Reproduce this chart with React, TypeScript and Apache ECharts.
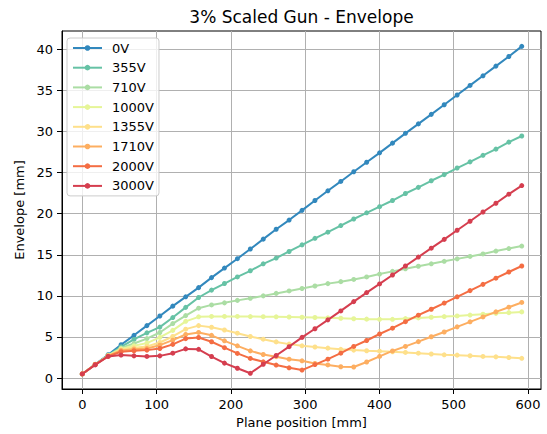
import React, { useEffect, useRef } from "react";
import * as echarts from "echarts";

const planePos = [0, 17.4, 34.8, 52.2, 69.6, 87, 104.4, 121.8, 139.2, 156.6, 174, 191.4, 208.8, 226.2, 243.6, 261, 278.4, 295.8, 313.2, 330.6, 348, 365.4, 382.8, 400.2, 417.6, 435, 452.4, 469.8, 487.2, 504.6, 522, 539.4, 556.8, 574.2, 591.6];

const env0V = [0.5, 1.67, 2.84, 4.05, 5.2, 6.38, 7.55, 8.75, 9.88, 11.0, 12.22, 13.38, 14.52, 15.7, 16.9, 18.1, 19.22, 20.4, 21.6, 22.78, 23.92, 25.1, 26.25, 27.4, 28.58, 29.77, 30.92, 32.08, 33.25, 34.43, 35.6, 36.77, 37.95, 39.12, 40.35];
const env355V = [0.5, 1.65, 2.78, 3.8, 4.7, 5.5, 6.2, 7.36, 8.6, 9.8, 10.7, 11.5, 12.3, 13.05, 13.9, 14.6, 15.4, 16.2, 17.0, 17.75, 18.55, 19.35, 20.1, 20.85, 21.6, 22.45, 23.2, 24.0, 24.75, 25.55, 26.3, 27.1, 27.85, 28.7, 29.45];
const env710V = [0.5, 1.65, 2.75, 3.65, 4.2, 4.8, 5.54, 6.63, 7.6, 8.5, 8.9, 9.15, 9.45, 9.7, 10.0, 10.3, 10.6, 10.9, 11.2, 11.49, 11.73, 12.0, 12.3, 12.65, 12.98, 13.3, 13.6, 13.9, 14.2, 14.5, 14.8, 15.1, 15.45, 15.75, 16.06];
const env1000V = [0.5, 1.65, 2.72, 3.55, 3.92, 4.25, 4.95, 5.8, 6.9, 7.45, 7.5, 7.5, 7.5, 7.48, 7.47, 7.45, 7.43, 7.4, 7.37, 7.33, 7.28, 7.22, 7.17, 7.15, 7.15, 7.24, 7.32, 7.4, 7.48, 7.56, 7.66, 7.77, 7.87, 7.96, 8.05];
const env1355V = [0.5, 1.65, 2.7, 3.45, 3.7, 3.84, 4.33, 5.06, 5.95, 6.38, 6.18, 5.85, 5.46, 5.06, 4.73, 4.4, 4.13, 3.92, 3.78, 3.64, 3.5, 3.4, 3.32, 3.27, 3.2, 3.12, 3.03, 2.93, 2.83, 2.79, 2.71, 2.63, 2.58, 2.5, 2.4];
const env1710V = [0.5, 1.65, 2.68, 3.35, 3.52, 3.6, 4.0, 4.61, 5.3, 5.55, 5.2, 4.53, 3.92, 3.31, 2.87, 2.6, 2.3, 2.1, 1.78, 1.6, 1.38, 1.35, 1.95, 2.63, 3.3, 3.85, 4.43, 5.03, 5.6, 6.23, 6.84, 7.44, 8.05, 8.62, 9.2];
const env2000V = [0.5, 1.65, 2.65, 3.2, 3.32, 3.4, 3.6, 4.1, 4.8, 4.93, 4.42, 3.7, 3.0, 2.39, 1.98, 1.58, 1.25, 0.97, 1.64, 2.3, 3.03, 3.85, 4.57, 5.36, 6.07, 6.86, 7.65, 8.37, 9.12, 9.88, 10.64, 11.4, 12.15, 12.9, 13.63];
const env3000V = [0.5, 1.6, 2.63, 2.8, 2.7, 2.63, 2.7, 3.03, 3.55, 3.5, 2.62, 1.82, 1.19, 0.58, 1.68, 2.75, 3.82, 4.95, 6.0, 7.08, 8.17, 9.3, 10.4, 11.45, 12.54, 13.63, 14.72, 15.8, 16.87, 17.98, 19.08, 20.2, 21.27, 22.37, 23.42];

const seriesNames = ["0V", "355V", "710V", "1000V", "1355V", "1710V", "2000V", "3000V"];
const seriesValues = [env0V, env355V, env710V, env1000V, env1355V, env1710V, env2000V, env3000V];
const seriesColors = ["#3288bd", "#66c2a5", "#abdda4", "#e6f598", "#fee08b", "#fdae61", "#f46d43", "#d53e4f"];

const xTicks = [0, 100, 200, 300, 400, 500, 600];
const yTicks = [0, 5, 10, 15, 20, 25, 30, 35, 40];

const titleText = "3% Scaled Gun - Envelope";
const xLabel = "Plane position [mm]";
const yLabel = "Envelope [mm]";

export default function App() {
  const ref = useRef<HTMLDivElement>(null);
  useEffect(() => {
    if (!ref.current) return;
    const chart = echarts.init(ref.current, null, { renderer: "svg" });
    const font = "DejaVu Sans";
    const gridL = 62, gridT = 31, gridW = 479, gridH = 359;
    chart.setOption({
      animation: false,
      backgroundColor: "#ffffff",
      textStyle: { fontFamily: font },
      grid: { left: gridL, top: gridT, width: gridW, height: gridH, show: true, borderColor: "#000000", borderWidth: 1, backgroundColor: "transparent" },
      graphic: [
        {
          type: "text",
          x: gridL + gridW / 2,
          y: 17,
          style: { text: titleText, fontSize: 17, fontFamily: font, fill: "#000000", align: "center", verticalAlign: "middle", textAlign: "center", textVerticalAlign: "middle" },
        },
      ],
      legend: {
        orient: "vertical",
        left: 67,
        top: 38,
        padding: [3, 5, 3, 5],
        itemWidth: 29,
        itemHeight: 7,
        itemGap: 5.7,
        backgroundColor: "rgba(255,255,255,0.8)",
        borderColor: "#cccccc",
        borderWidth: 1,
        borderRadius: 3,
        textStyle: { fontSize: 13, fontFamily: font, color: "#000000", lineHeight: 14, padding: [0, 0, 0, 5] },
        data: seriesNames,
      },
      xAxis: {
        type: "value",
        min: -27.3,
        max: 617.5,
        name: xLabel,
        nameLocation: "middle",
        nameGap: 27,
        nameTextStyle: { fontSize: 13, color: "#000000", fontFamily: font },
        axisLine: { show: true, onZero: false, lineStyle: { color: "#000000", width: 1 } },
        axisTick: { show: true, inside: false, length: 5, customValues: xTicks, lineStyle: { color: "#000000", width: 1 } },
        axisLabel: { customValues: xTicks, fontSize: 13, color: "#000000", fontFamily: font, margin: 9 },
        splitLine: { show: true, lineStyle: { color: "#b0b0b0", width: 1 } },
      },
      yAxis: {
        type: "value",
        min: -1.33,
        max: 42.22,
        name: yLabel,
        nameLocation: "middle",
        nameGap: 34,
        nameTextStyle: { fontSize: 13, color: "#000000", fontFamily: font },
        axisLine: { show: true, onZero: false, lineStyle: { color: "#000000", width: 1 } },
        axisTick: { show: true, inside: false, length: 5, customValues: yTicks, lineStyle: { color: "#000000", width: 1 } },
        axisLabel: { customValues: yTicks, fontSize: 13, color: "#000000", fontFamily: font, margin: 9 },
        splitLine: { show: true, lineStyle: { color: "#b0b0b0", width: 1 } },
      },
      series: seriesNames.map((name, k) => ({
        name,
        type: "line",
        data: planePos.map((x, i) => [x, seriesValues[k][i]]),
        symbol: "circle",
        symbolSize: 5,
        showSymbol: true,
        color: seriesColors[k],
        lineStyle: { width: 2, color: seriesColors[k] },
        itemStyle: { color: seriesColors[k] },
        emphasis: { disabled: true },
        z: 2 + k * 0.01,
      })),
    });
    return () => chart.dispose();
  }, []);
  return <div ref={ref} style={{ position: "absolute", left: 0, top: 0, width: 547, height: 434 }} />;
}
